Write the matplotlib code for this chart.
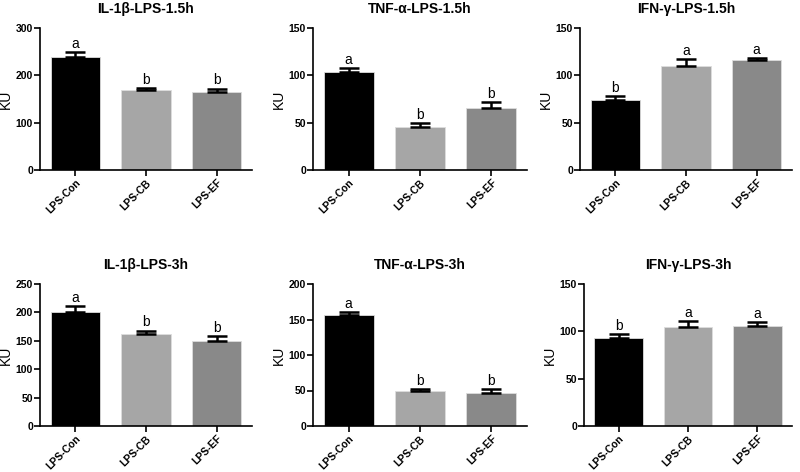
import numpy as np
import matplotlib
matplotlib.use('Agg')
from matplotlib import pyplot as plt

plt.rcParams['font.family'] = ['Liberation Sans', 'DejaVu Sans']
plt.rcParams['font.weight'] = 'bold'

groups = ['LPS-Con', 'LPS-CB', 'LPS-EF']
bar_colors = ['#000000', '#a6a6a6', '#898989']

titles = ['IL-1β-LPS-1.5h', 'TNF-α-LPS-1.5h', 'IFN-γ-LPS-1.5h',
          'IL-1β-LPS-3h', 'TNF-α-LPS-3h', 'IFN-γ-LPS-3h']

il1b_15 = [238, 169, 164]
il1b_15_err = [11, 4, 8]
tnf_15 = [104, 45, 66]
tnf_15_err = [3.5, 4.5, 6]
ifn_15 = [74, 110, 116.5]
ifn_15_err = [4.5, 7.5, 1.5]
il1b_3 = [200, 162, 149]
il1b_3_err = [10.5, 6, 9]
tnf_3 = [157, 49.5, 46.5]
tnf_3_err = [3.5, 3, 6]
ifn_3 = [93, 104.5, 106]
ifn_3_err = [4.5, 6.5, 3.5]

letters = [['a', 'b', 'b'], ['a', 'b', 'b'], ['b', 'a', 'a'],
           ['a', 'b', 'b'], ['a', 'b', 'b'], ['b', 'a', 'a']]

values = [il1b_15, tnf_15, ifn_15, il1b_3, tnf_3, ifn_3]
errors = [il1b_15_err, tnf_15_err, ifn_15_err, il1b_3_err, tnf_3_err, ifn_3_err]
ymax = [300, 150, 150, 250, 200, 150]
ystep = [100, 50, 50, 50, 50, 50]

# axes boxes in pixels (left, bottom, right, top) measured from top-left
W, H = 800, 472
boxes = [(40, 170, 252, 28), (313, 170, 527, 28), (580, 170, 792, 28),
         (40, 426, 252, 284), (313, 426, 527, 284), (584, 426, 792, 284)]

fig = plt.figure(figsize=(8, 4.72), dpi=100)

for i in range(6):
    l, b, r, t = boxes[i]
    ax = fig.add_axes([l / W, 1 - b / H, (r - l) / W, (b - t) / H])
    x = np.arange(3)
    v = values[i]
    e = errors[i]
    ax.bar(x, v, width=0.7, color=bar_colors, edgecolor='#dddddd', linewidth=0.6, zorder=2)
    ax.errorbar(x, v, yerr=[[0, 0, 0], e], fmt='none', ecolor='black',
                elinewidth=1.8, capsize=7.5, capthick=1.8, zorder=3)
    for j in range(3):
        ax.text(x[j], v[j] + e[j] + ymax[i] * 0.008, letters[i][j], ha='center', va='bottom',
                fontsize=10, fontweight='normal')
    ax.set_xlim(-0.5, 2.5)
    ax.set_ylim(0, ymax[i])
    ax.set_yticks(np.arange(0, ymax[i] + 1, ystep[i]))
    ax.set_xticks(x)
    ax.set_xticklabels(groups, rotation=45, ha='right', rotation_mode='anchor', fontsize=7.5)
    ax.tick_params(axis='y', labelsize=7.5, length=4, width=1.2, pad=1)
    ax.tick_params(axis='x', length=4, width=1.2, pad=1.5)
    for sp in ['top', 'right']:
        ax.spines[sp].set_visible(False)
    for sp in ['left', 'bottom']:
        ax.spines[sp].set_linewidth(1.2)
    ax.set_ylabel('KU', fontsize=10, labelpad=2)
    ax.set_title(titles[i], fontsize=10, fontweight='bold', pad=11)

fig.savefig('out.png', dpi=100)
